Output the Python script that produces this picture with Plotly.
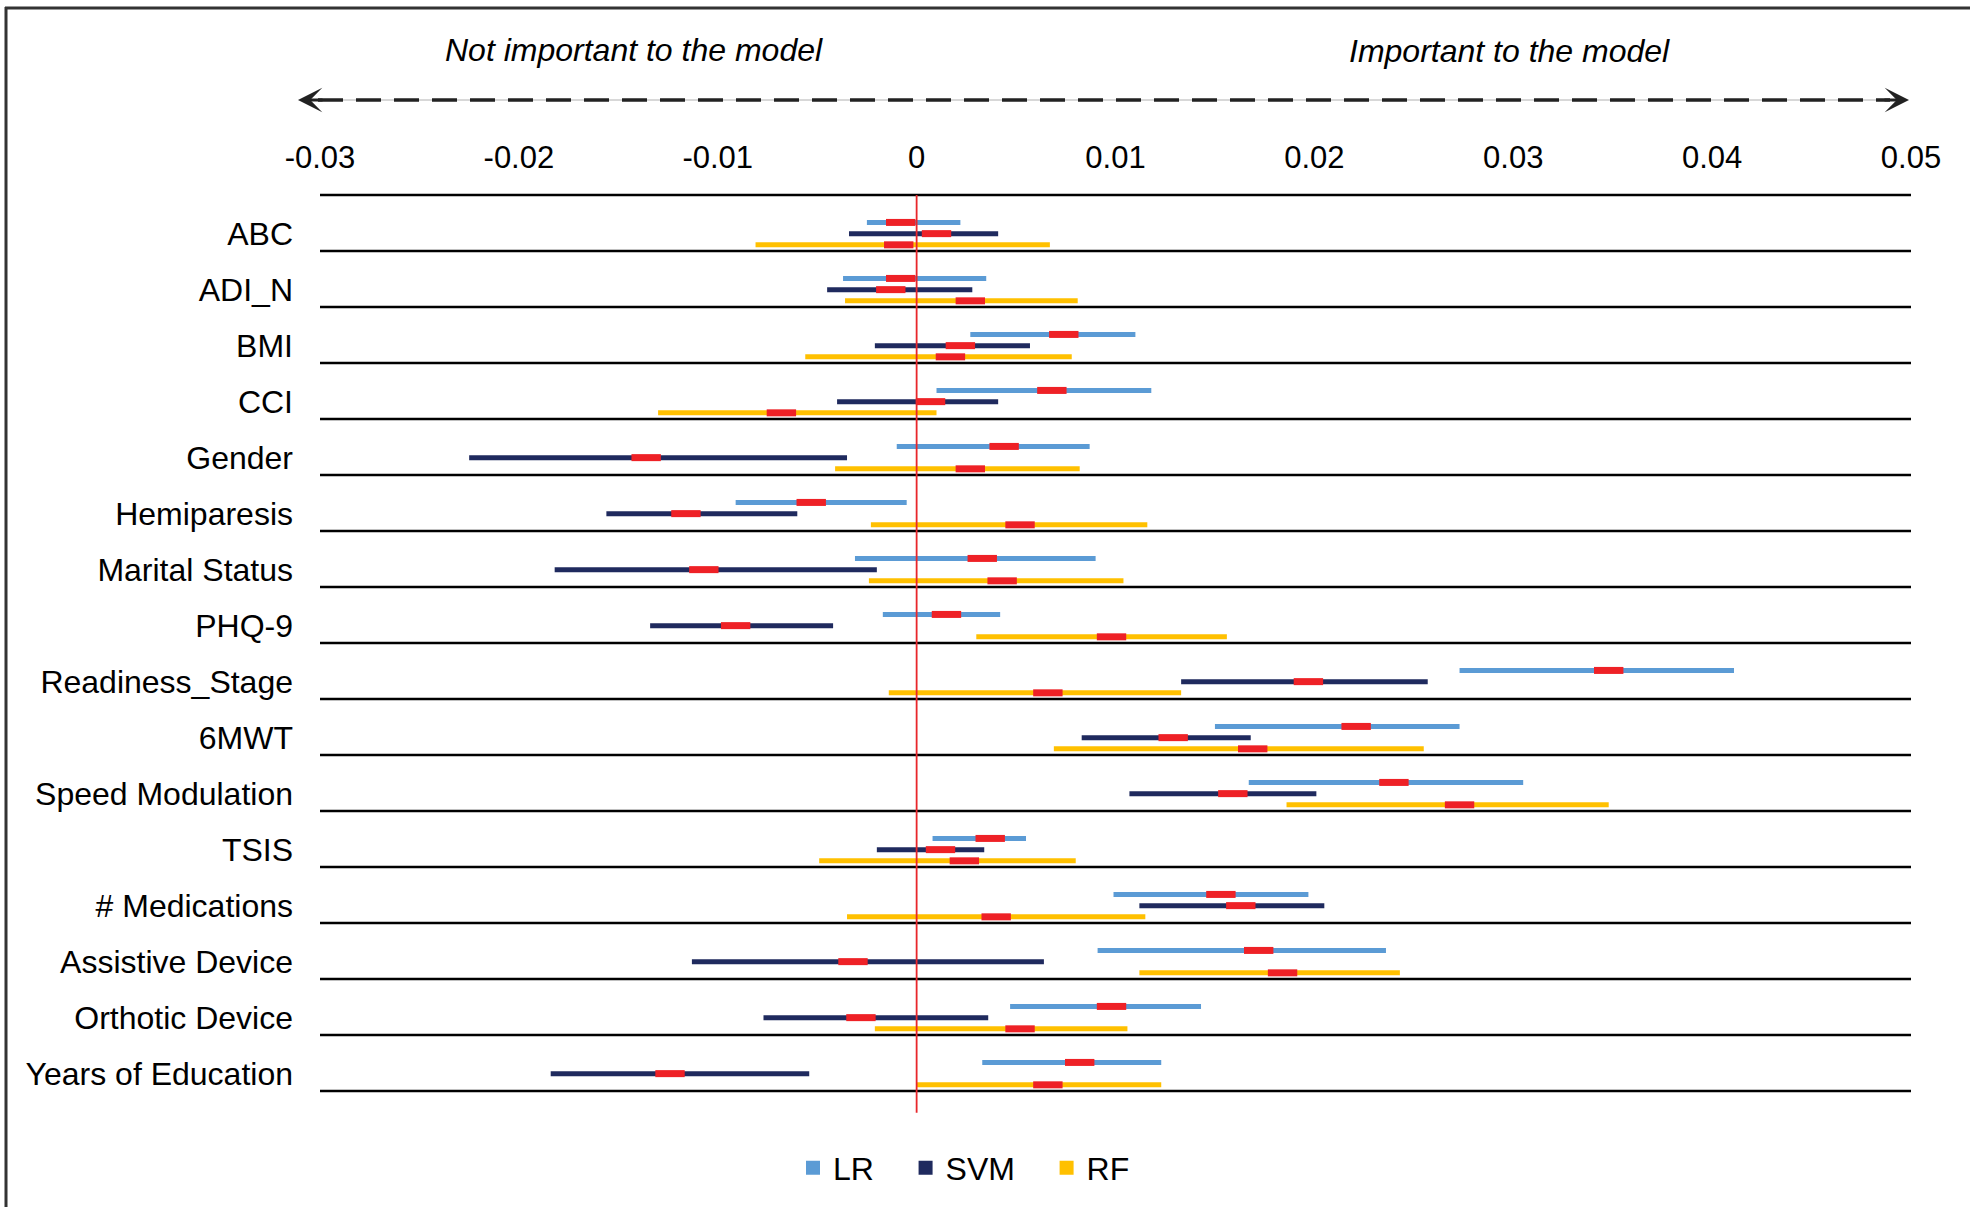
import plotly.graph_objects as go

# ---------------- data ----------------
CATEGORIES = ["ABC", "ADI_N", "BMI", "CCI", "Gender", "Hemiparesis", "Marital Status",
              "PHQ-9", "Readiness_Stage", "6MWT", "Speed Modulation", "TSIS",
              "# Medications", "Assistive Device", "Orthotic Device", "Years of Education"]

MODELS = ["LR", "SVM", "RF"]

LR_MEAN = [-0.0008, -0.0008, 0.0074, 0.0068, 0.0044, -0.0053, 0.0033, 0.0015,
           0.0348, 0.0221, 0.0240, 0.0037, 0.0153, 0.0172, 0.0098, 0.0082]
LR_LOW = [-0.0025, -0.0037, 0.0027, 0.0010, -0.0010, -0.0091, -0.0031, -0.0017,
          0.0273, 0.0150, 0.0167, 0.0008, 0.0099, 0.0091, 0.0047, 0.0033]
LR_HIGH = [0.0022, 0.0035, 0.0110, 0.0118, 0.0087, -0.0005, 0.0090, 0.0042,
           0.0411, 0.0273, 0.0305, 0.0055, 0.0197, 0.0236, 0.0143, 0.0123]

SVM_MEAN = [0.0010, -0.0013, 0.0022, 0.0007, -0.0136, -0.0116, -0.0107, -0.0091,
            0.0197, 0.0129, 0.0159, 0.0012, 0.0163, -0.0032, -0.0028, -0.0124]
SVM_LOW = [-0.0034, -0.0045, -0.0021, -0.0040, -0.0225, -0.0156, -0.0182, -0.0134,
           0.0133, 0.0083, 0.0107, -0.0020, 0.0112, -0.0113, -0.0077, -0.0184]
SVM_HIGH = [0.0041, 0.0028, 0.0057, 0.0041, -0.0035, -0.0060, -0.0020, -0.0042,
            0.0257, 0.0168, 0.0201, 0.0034, 0.0205, 0.0064, 0.0036, -0.0054]

RF_MEAN = [-0.0009, 0.0027, 0.0017, -0.0068, 0.0027, 0.0052, 0.0043, 0.0098,
           0.0066, 0.0169, 0.0273, 0.0024, 0.0040, 0.0184, 0.0052, 0.0066]
RF_LOW = [-0.0081, -0.0036, -0.0056, -0.0130, -0.0041, -0.0023, -0.0024, 0.0030,
          -0.0014, 0.0069, 0.0186, -0.0049, -0.0035, 0.0112, -0.0021, 0.0000]
RF_HIGH = [0.0067, 0.0081, 0.0078, 0.0010, 0.0082, 0.0116, 0.0104, 0.0156,
           0.0133, 0.0255, 0.0348, 0.0080, 0.0115, 0.0243, 0.0106, 0.0123]

X_TICKS = [-0.03, -0.02, -0.01, 0, 0.01, 0.02, 0.03, 0.04, 0.05]
X_TICK_LABELS = ["-0.03", "-0.02", "-0.01", "0", "0.01", "0.02", "0.03", "0.04", "0.05"]

LEFT_NOTE = "Not important to the model"
RIGHT_NOTE = "Important to the model"

# ---------------- style ----------------
COLORS = {"LR": "#5B9BD5", "SVM": "#1F2A5E", "RF": "#FFC000"}
OFFSETS = {"LR": -0.01, "SVM": 0.19, "RF": 0.39}
MEAN_COLOR = "#EE2126"
FONT = "Liberation Sans, Arial, sans-serif"
NBSP = "\u00a0"

W, H = 1970, 1207
ML, MR, MT, MB = 320, 59, 189, 94


def px_x(X):
    return (X - ML) / (W - ML - MR)


def px_y(Y):
    return (H - MB - Y) / (H - MT - MB)


series = {
    "LR": (LR_MEAN, LR_LOW, LR_HIGH),
    "SVM": (SVM_MEAN, SVM_LOW, SVM_HIGH),
    "RF": (RF_MEAN, RF_LOW, RF_HIGH),
}

fig = go.Figure()
n = len(CATEGORIES)

# range bars
for m in MODELS:
    mean, low, high = series[m]
    xs, ys = [], []
    for i in range(n):
        yv = i + OFFSETS[m]
        xs += [low[i], high[i], None]
        ys += [yv, yv, None]
    fig.add_trace(go.Scatter(x=xs, y=ys, mode="lines", showlegend=False,
                             line=dict(color=COLORS[m], width=5), hoverinfo="skip"))

# mean markers
for m in MODELS:
    mean, low, high = series[m]
    fig.add_trace(go.Scatter(
        x=mean, y=[i + OFFSETS[m] for i in range(n)], mode="markers", showlegend=False,
        marker=dict(symbol="line-ew", size=21, color=MEAN_COLOR,
                    line=dict(color=MEAN_COLOR, width=7))))

# legend entries
for m in MODELS:
    fig.add_trace(go.Scatter(x=[None], y=[None], mode="markers", name=m + NBSP * 3,
                             marker=dict(symbol="square", size=14, color=COLORS[m])))

shapes = []
# row separator lines
for b in range(n + 1):
    shapes.append(dict(type="line", xref="x", yref="y", x0=X_TICKS[0], x1=X_TICKS[-1],
                       y0=b - 0.5, y1=b - 0.5, line=dict(color="black", width=2.5)))
# zero line
shapes.append(dict(type="line", xref="x", yref="y", x0=0, x1=0, y0=-0.5, y1=n - 0.5 + 0.39,
                   line=dict(color="#E8262B", width=1.8)))
# dashed arrow shaft
shapes.append(dict(type="line", xref="paper", yref="paper", x0=px_x(305), x1=px_x(1900),
                   y0=px_y(100), y1=px_y(100), line=dict(color="#B0B0B0", width=1)))
shapes.append(dict(type="line", xref="paper", yref="paper", x0=px_x(318), x1=px_x(1890),
                   y0=px_y(100), y1=px_y(100),
                   line=dict(color="#222222", width=3.5, dash="25px,13px")))
# outer frame (top & left)
shapes.append(dict(type="line", xref="paper", yref="paper", x0=px_x(5), x1=px_x(1975),
                   y0=px_y(8), y1=px_y(8), line=dict(color="#333333", width=3)))
shapes.append(dict(type="line", xref="paper", yref="paper", x0=px_x(6), x1=px_x(6),
                   y0=px_y(7), y1=px_y(1210), line=dict(color="#333333", width=3)))

annotations = [
    dict(xref="paper", yref="paper", x=px_x(634), y=px_y(50), text="<i>%s</i>" % LEFT_NOTE,
         showarrow=False, font=dict(size=32, family=FONT, color="black"),
         xanchor="center", yanchor="middle"),
    dict(xref="paper", yref="paper", x=px_x(1509), y=px_y(51), text="<i>%s</i>" % RIGHT_NOTE,
         showarrow=False, font=dict(size=32, family=FONT, color="black"),
         xanchor="center", yanchor="middle"),
    dict(xref="paper", yref="paper", x=px_x(298), y=px_y(100), text="", showarrow=True,
         ax=26, ay=0, arrowhead=3, arrowsize=1.35, arrowwidth=3, arrowcolor="#222222"),
    dict(xref="paper", yref="paper", x=px_x(1909), y=px_y(100), text="", showarrow=True,
         ax=-26, ay=0, arrowhead=3, arrowsize=1.35, arrowwidth=3, arrowcolor="#222222"),
]

fig.update_layout(
    width=W, height=H,
    margin=dict(l=ML, r=MR, t=MT, b=MB, pad=0),
    paper_bgcolor="white", plot_bgcolor="white",
    font=dict(family=FONT, size=31, color="black"),
    shapes=shapes, annotations=annotations,
    xaxis=dict(side="top", range=[X_TICKS[0], X_TICKS[-1]], tickmode="array",
               tickvals=X_TICKS, ticktext=X_TICK_LABELS, showgrid=False,
               zeroline=False, showline=False, ticks="", ticklabelstandoff=14,
               tickfont=dict(size=31, family=FONT, color="black")),
    yaxis=dict(range=[n - 0.5 + 0.393, -0.607], tickmode="array",
               tickvals=[i + OFFSETS["SVM"] for i in range(n)], ticktext=CATEGORIES,
               showgrid=False, zeroline=False, showline=False, ticks="",
               ticklabelstandoff=26, tickfont=dict(size=32, family=FONT, color="black")),
    legend=dict(orientation="h", x=px_x(793), y=px_y(1168), xanchor="left",
                yanchor="middle", font=dict(size=32, family=FONT, color="black"),
                bgcolor="rgba(0,0,0,0)", traceorder="normal"),
    showlegend=True,
)

fig.write_html("out.html", config={"displayModeBar": False},
               post_script="document.body.style.margin='0';document.body.style.overflow='hidden';")
